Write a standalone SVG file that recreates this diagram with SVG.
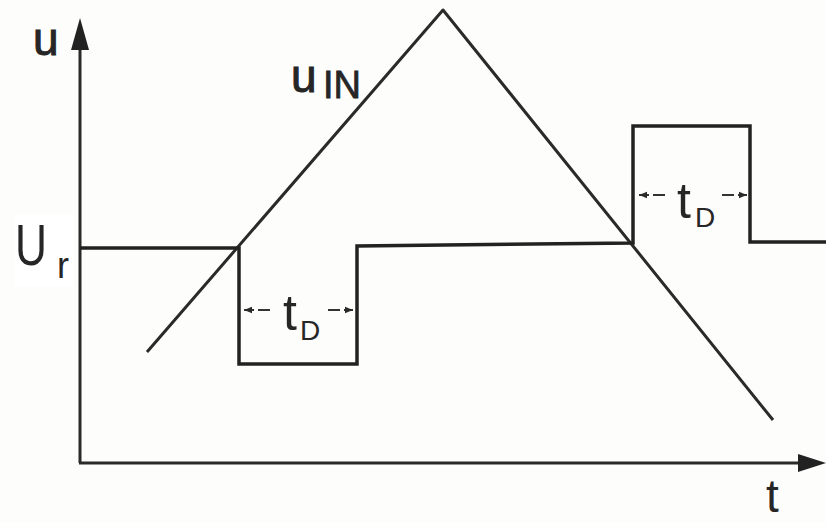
<svg xmlns="http://www.w3.org/2000/svg" width="826" height="523" viewBox="0 0 826 523">
  <defs>
    <marker id="ah" viewBox="0 0 10 10" refX="10" refY="5" markerWidth="8" markerHeight="8" markerUnits="userSpaceOnUse" orient="auto">
      <path d="M0,1 L10,5 L0,9 Z" fill="#2a2a2a"/>
    </marker>
  </defs>
  <style>
    .ax { stroke:#2a2a2a; stroke-width:3; fill:none; }
    .wv { stroke:#222; stroke-width:3.5; fill:none; stroke-linejoin:miter; }
    .tri { stroke:#2a2a2a; stroke-width:3; fill:none; stroke-linejoin:round; }
    .dim { stroke:#333; stroke-width:2; fill:none; stroke-dasharray:12 4; }
    .lbl { font-family:"Liberation Sans", Arial, sans-serif; fill:#262626; }
  </style>
  <rect width="826" height="523" fill="#fdfdfb"/>
  <g id="axes">
    <line class="ax" x1="80" y1="463" x2="80" y2="44"/>
    <path d="M80,18 L71,50 L89,50 Z" fill="#222"/>
    <line class="ax" x1="79" y1="463" x2="802" y2="463"/>
    <path d="M826,463 L798,454 L798,472 Z" fill="#222"/>
  </g>
  <g id="u-label"><text class="lbl" x="33" y="55" font-size="46" stroke="#262626" stroke-width="1">u</text></g>
  <g id="t-label"><text class="lbl" x="766" y="512" font-size="46">t</text></g>
  <g id="ur-label">
    <rect x="14" y="215" width="60" height="72" fill="#ffffff"/>
    <text class="lbl" x="15" y="265" font-size="58" fill="#000" textLength="32" lengthAdjust="spacingAndGlyphs">U</text>
    <text class="lbl" x="57" y="278" font-size="36" fill="#000">r</text>
  </g>
  <g id="uin-label">
    <text class="lbl" x="291" y="92" font-size="46" stroke="#262626" stroke-width="1">u</text>
    <text class="lbl" x="323" y="98" font-size="38" stroke="#262626" stroke-width="0.8">IN</text>
  </g>
  <g id="triangle">
    <polyline class="tri" points="147,352 443,10 773,420"/>
  </g>
  <g id="comparator-output">
    <polyline class="wv" points="80,248 239,248 239,364 357,364 357,246 633,243 633,126 750,126 750,242 826,242"/>
  </g>
  <g id="connectors">
    <line class="dim" x1="270" y1="310" x2="244" y2="310" marker-end="url(#ah)"/>
    <line class="dim" x1="328" y1="310" x2="353" y2="310" marker-end="url(#ah)"/>
    <line class="dim" x1="665" y1="195" x2="639" y2="195" marker-end="url(#ah)"/>
    <line class="dim" x1="722" y1="195" x2="747" y2="195" marker-end="url(#ah)"/>
  </g>
  <g id="td1">
    <text class="lbl" x="283" y="330" font-size="50">t</text>
    <text class="lbl" x="300" y="340" font-size="28">D</text>
  </g>
  <g id="td2">
    <text class="lbl" x="677" y="218" font-size="50">t</text>
    <text class="lbl" x="695" y="227" font-size="28">D</text>
  </g>
</svg>
